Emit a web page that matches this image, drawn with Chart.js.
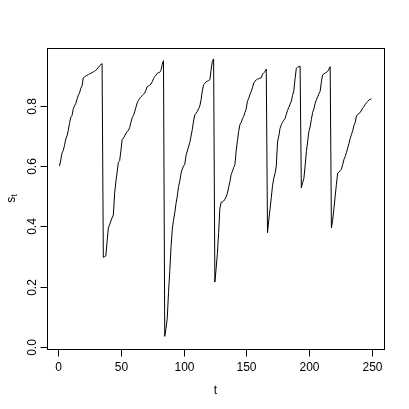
<!DOCTYPE html>
<html>
<head>
<meta charset="utf-8">
<script src="https://cdn.jsdelivr.net/npm/chart.js@4/dist/chart.umd.min.js"></script>
<style>
  html, body { margin: 0; padding: 0; background: #fff; }
  #wrap { width: 409px; height: 409px; }
</style>
</head>
<body>
<div id="wrap"><canvas id="chart" width="409" height="409"></canvas></div>
<script>
// series s_t, t = 1..250
const sValues = [
  0.600, 0.620, 0.643, 0.652, 0.668, 0.690, 0.700, 0.718, 0.742, 0.762,
  0.768, 0.790, 0.800, 0.808, 0.822, 0.835, 0.843, 0.858, 0.866, 0.893,
  0.896, 0.899, 0.901, 0.904, 0.906, 0.908, 0.910, 0.913, 0.915, 0.918,
  0.922, 0.928, 0.933, 0.937, 0.940, 0.297, 0.300, 0.302, 0.350, 0.395,
  0.405, 0.418, 0.428, 0.438, 0.510, 0.548, 0.580, 0.612, 0.618, 0.650,
  0.688, 0.693, 0.700, 0.708, 0.715, 0.718, 0.728, 0.745, 0.760, 0.768,
  0.780, 0.795, 0.810, 0.818, 0.825, 0.830, 0.834, 0.838, 0.843, 0.852,
  0.864, 0.866, 0.869, 0.872, 0.880, 0.890, 0.897, 0.902, 0.908, 0.910,
  0.911, 0.918, 0.938, 0.950, 0.035, 0.062, 0.095, 0.180, 0.250, 0.330,
  0.390, 0.420, 0.445, 0.476, 0.500, 0.532, 0.550, 0.576, 0.590, 0.600,
  0.606, 0.636, 0.650, 0.664, 0.678, 0.700, 0.722, 0.750, 0.770, 0.775,
  0.782, 0.790, 0.800, 0.820, 0.850, 0.870, 0.874, 0.880, 0.882, 0.884,
  0.887, 0.920, 0.948, 0.956, 0.215, 0.260, 0.310, 0.380, 0.460, 0.480,
  0.481, 0.484, 0.490, 0.498, 0.510, 0.530, 0.548, 0.572, 0.582, 0.595,
  0.605, 0.650, 0.685, 0.715, 0.738, 0.745, 0.757, 0.765, 0.778, 0.790,
  0.815, 0.825, 0.838, 0.848, 0.860, 0.876, 0.882, 0.886, 0.889, 0.890,
  0.892, 0.893, 0.905, 0.910, 0.914, 0.922, 0.379, 0.420, 0.456, 0.495,
  0.535, 0.560, 0.575, 0.600, 0.680, 0.700, 0.725, 0.737, 0.745, 0.752,
  0.758, 0.772, 0.785, 0.795, 0.806, 0.815, 0.835, 0.850, 0.890, 0.925,
  0.928, 0.930, 0.932, 0.528, 0.545, 0.558, 0.600, 0.648, 0.680, 0.715,
  0.730, 0.755, 0.778, 0.790, 0.808, 0.820, 0.830, 0.840, 0.848, 0.880,
  0.903, 0.906, 0.909, 0.911, 0.914, 0.922, 0.930, 0.395, 0.420, 0.460,
  0.500, 0.540, 0.577, 0.580, 0.585, 0.590, 0.605, 0.622, 0.632, 0.645,
  0.660, 0.675, 0.692, 0.705, 0.718, 0.735, 0.745, 0.766, 0.772, 0.775,
  0.778, 0.786, 0.793, 0.797, 0.805, 0.810, 0.815, 0.820, 0.822, 0.823
];
const xTicks = [0, 50, 100, 150, 200, 250];
const yTicks = [0, 0.2, 0.4, 0.6, 0.8];
const yTickLabels = ["0.0", "0.2", "0.4", "0.6", "0.8"];
const xTitle = "t";

const FONT = '12px "Liberation Sans", Arial, sans-serif';

const points = sValues.map((v, i) => ({ x: i + 1, y: v }));

// R style box, ticks and labels
const rAxes = {
  id: "rAxes",
  afterDraw(chart) {
    const ctx = chart.ctx;
    const area = chart.chartArea;
    const xs = chart.scales.x;
    const ys = chart.scales.y;
    ctx.save();
    ctx.strokeStyle = "#000";
    ctx.fillStyle = "#000";
    ctx.lineWidth = 1;
    ctx.strokeRect(Math.round(area.left) + 0.5, Math.round(area.top) + 0.5,
      Math.round(area.right - area.left), Math.round(area.bottom - area.top));

    ctx.font = FONT;
    ctx.textAlign = "center";
    ctx.textBaseline = "middle";
    const bottom = Math.round(area.bottom) + 0.5;
    xTicks.forEach(v => {
      const px = Math.round(xs.getPixelForValue(v)) + 0.5;
      ctx.beginPath();
      ctx.moveTo(px, bottom);
      ctx.lineTo(px, bottom + 7);
      ctx.stroke();
      ctx.fillText(String(v), px, bottom + 18);
    });

    const left = Math.round(area.left) + 0.5;
    yTicks.forEach((v, i) => {
      const py = Math.round(ys.getPixelForValue(v)) + 0.5;
      ctx.beginPath();
      ctx.moveTo(left - 7, py);
      ctx.lineTo(left, py);
      ctx.stroke();
      ctx.save();
      ctx.translate(left - 15, py);
      ctx.rotate(-Math.PI / 2);
      ctx.fillText(yTickLabels[i], 0, 0);
      ctx.restore();
    });

    // axis titles
    const cx = (area.left + area.right) / 2;
    const cy = (area.top + area.bottom) / 2;
    ctx.fillText(xTitle, cx, 391);

    ctx.save();
    ctx.translate(12, cy);
    ctx.rotate(-Math.PI / 2);
    ctx.textAlign = "left";
    ctx.font = FONT;
    const sw = ctx.measureText("s").width;
    ctx.font = '9px "Liberation Sans", Arial, sans-serif';
    const tw = ctx.measureText("t").width;
    const start = -(sw + tw) / 2;
    ctx.font = FONT;
    ctx.fillText("s", start, 0);
    ctx.font = '9px "Liberation Sans", Arial, sans-serif';
    ctx.fillText("t", start + sw, 3);
    ctx.restore();

    ctx.restore();
  }
};

new Chart(document.getElementById("chart").getContext("2d"), {
  type: "line",
  data: {
    datasets: [{
      data: points,
      borderColor: "#000",
      borderWidth: 1,
      pointRadius: 0,
      tension: 0,
      fill: false
    }]
  },
  options: {
    responsive: false,
    devicePixelRatio: 1,
    animation: false,
    layout: { padding: { left: 47, right: 25, top: 48, bottom: 60 } },
    plugins: { legend: { display: false }, tooltip: { enabled: false } },
    scales: {
      x: { type: "linear", min: -8.96, max: 259.96, display: false },
      y: { type: "linear", min: -0.007, max: 0.992, display: false }
    }
  },
  plugins: [rAxes]
});
</script>
</body>
</html>
